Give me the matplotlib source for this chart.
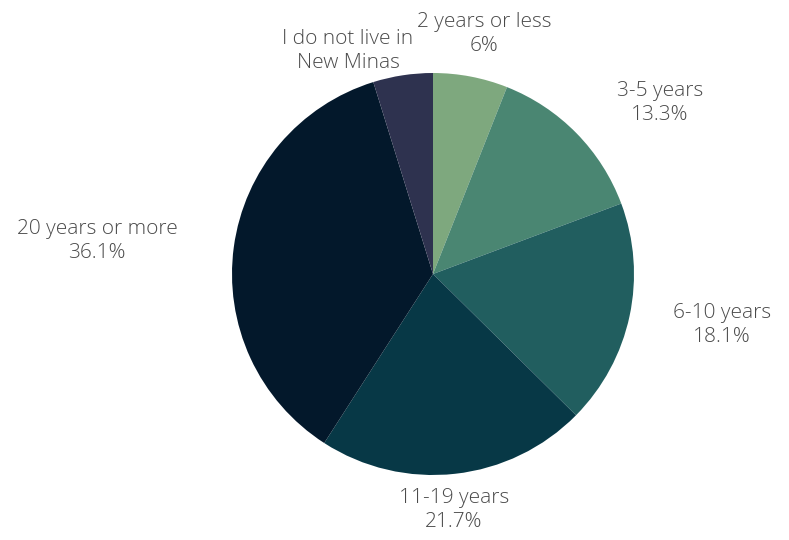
import matplotlib.pyplot as plt

categories = ['2 years or less', '3-5 years', '6-10 years', '11-19 years',
              '20 years or more', 'I do not live in\nNew Minas']
shares = [6.0, 13.3, 18.1, 21.7, 36.1, 4.8]
show_pct = [True, True, True, True, True, False]

colors = ['#7ea87e', '#4a8672', '#215e5f', '#073846', '#03182b', '#2e324f']

# label centres in pixel space (x, y from top)
label_pos = [(484, 34), (660, 103), (722, 325), (454, 510), (97, 241), (348, 51)]

fig = plt.figure(figsize=(7.89, 5.40), dpi=100)
ax = fig.add_axes([0, 0, 1, 1])

cx, cy, r = 433, 540 - 274, 201
ax.pie(shares, colors=colors, startangle=90, counterclock=False,
       center=(cx, cy), radius=r, frame=True,
       wedgeprops=dict(linewidth=0))
ax.set_xlim(0, 789)
ax.set_ylim(0, 540)
ax.set_aspect('equal')
ax.axis('off')

for name, val, pct, (x, y) in zip(categories, shares, show_pct, label_pos):
    text = f'{name}\n{val:g}%' if pct else name
    ax.text(x, 540 - y, text, ha='center', va='center', fontsize=15,
            family='Open Sans', weight='light', color='#4a4a4a',
            linespacing=1.3)

fig.savefig('out.png', dpi=100)
